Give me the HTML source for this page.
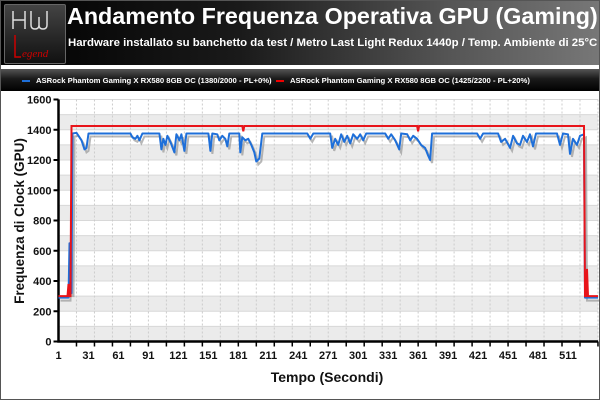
<!DOCTYPE html>
<html><head><meta charset="utf-8"><style>
body{margin:0;width:600px;height:400px;overflow:hidden;background:#fff;font-family:"Liberation Sans",sans-serif}
#root{position:relative;width:598px;height:398px;border:1px solid #555;background:#fff}
#hdr{position:absolute;left:0;top:0;width:598px;height:64px;background:linear-gradient(90deg,#000 0%,#1a1a1a 40%,#555 75%,#777 100%)}
#logo{position:absolute;left:3px;top:3px;width:60px;height:58px;background:linear-gradient(180deg,#444,#111);border:1px solid #666;border-radius:2px}
#title{position:absolute;left:66px;top:2px;color:#fff;font-weight:bold;font-size:23.3px;white-space:nowrap}
#sub{position:absolute;left:67px;top:36px;color:#fff;font-weight:bold;font-size:11.4px;white-space:nowrap}
#leg{position:absolute;left:0;top:68px;width:598px;height:22px;background:linear-gradient(180deg,#555,#1a1a1a 45%,#000);color:#fff;font-size:7.7px;font-weight:bold}
.li{position:absolute;top:7px;white-space:nowrap}
.sw{display:inline-block;width:8px;height:2px;margin-right:6px;vertical-align:middle}
</style></head><body>
<div id="root">
<div id="hdr">
 <div id="logo">
  <svg width="60" height="58">
   <path d="M8 6 V24 M8 15 H20 M20 6 V24 M26 6 V20 Q26 24 30 24 Q34 24 34 20 V12 M34 20 Q34 24 38 24 Q42 24 42 20 V6" stroke="#ddd" stroke-width="1.5" fill="none"/>
   <path d="M10 30 V52 H16" stroke="#c00" stroke-width="1.5" fill="none"/>
   <text x="17" y="52" fill="#c00" font-size="11" font-style="italic" font-family="Liberation Serif,serif">egend</text>
  </svg>
 </div>
 <div id="title">Andamento Frequenza Operativa GPU (Gaming)</div>
 <div id="sub">Hardware installato su banchetto da test / Metro Last Light Redux 1440p / Temp. Ambiente di 25°C</div>
</div>
<div id="leg">
 <div class="li" style="left:21px"><span class="sw" style="background:#1e6fd9"></span>ASRock Phantom Gaming X RX580 8GB OC (1380/2000 - PL+0%)</div>
 <div class="li" style="left:275px"><span class="sw" style="background:#e00"></span>ASRock Phantom Gaming X RX580 8GB OC (1425/2200 - PL+20%)</div>
</div>
<svg id="plot" width="598" height="398" style="position:absolute;left:0;top:0"></svg>
</div>
<script>
const yTicks=[0,200,400,600,800,1000,1200,1400,1600];
const xLabels=[1,31,61,91,121,151,181,211,241,271,301,331,361,391,421,451,481,511];
const redSeries=[[1,300],[10,300],[11,380],[12,300],[13,300],[14,1425],[185,1425],[186,1390],[187,1425],[360,1425],[361,1390],[362,1425],[527,1425],[528,300],[529,300],[530,480],[531,300],[541,300]];
const blueSeries=[[1,290],[11,290],[12,650],[13,320],[14,320],[15,1375],[19,1380],[21,1360],[24,1330],[27,1270],[29,1280],[31,1375],[73,1375],[75,1350],[78,1340],[80,1360],[82,1330],[85,1375],[102,1375],[104,1270],[106,1340],[108,1300],[110,1360],[113,1320],[117,1250],[119,1370],[122,1330],[124,1370],[127,1260],[129,1375],[151,1375],[153,1260],[155,1375],[160,1370],[162,1330],[165,1360],[168,1340],[170,1290],[172,1375],[182,1375],[183,1250],[185,1350],[188,1330],[191,1340],[194,1300],[197,1250],[199,1190],[202,1210],[205,1375],[250,1375],[253,1340],[256,1375],[273,1375],[275,1280],[278,1340],[281,1300],[284,1370],[287,1320],[290,1360],[293,1310],[296,1370],[300,1340],[303,1370],[306,1330],[309,1375],[328,1375],[331,1340],[334,1370],[338,1330],[342,1270],[344,1375],[350,1370],[353,1330],[356,1360],[360,1340],[364,1300],[368,1280],[371,1230],[373,1200],[375,1375],[420,1375],[423,1340],[426,1375],[441,1375],[444,1320],[448,1340],[453,1280],[456,1360],[460,1310],[463,1300],[466,1360],[470,1320],[473,1370],[476,1290],[479,1375],[500,1375],[503,1300],[506,1375],[511,1370],[513,1240],[516,1340],[520,1300],[523,1360],[527,1370],[528,290],[541,290]];
const svg=document.getElementById('plot');
const NS='http://www.w3.org/2000/svg';
const X0=57.5,X1=597,Y0=340.5,Y1=98.5;
function sx(t){return X0+(t-1)*((567-X0)/510);}
function sy(v){return Y0-(v/1600)*(Y0-Y1);}
function mk(tag,attrs,parent){const e=document.createElementNS(NS,tag);for(const k in attrs)e.setAttribute(k,attrs[k]);(parent||svg).appendChild(e);return e;}
for(let v=0;v<1600;v+=200){
 const b=mk('rect',{x:X0,y:sy(v+100),width:X1-X0,height:sy(v)-sy(v+100),fill:'#ebebeb'});
 
 
}
for(let v=100;v<=1600;v+=100){
 const g=mk('line',{x1:X0,x2:X1,y1:sy(v),y2:sy(v),stroke:'#d8d8d8','stroke-width':1});
 
 
}
for(let t=19;t<=541;t+=18){
 const g=mk('line',{x1:sx(t),x2:sx(t),y1:Y1,y2:Y0,stroke:'#ccc','stroke-dasharray':'2,2','stroke-width':1});
 
 
 const tk=mk('line',{x1:sx(t),x2:sx(t),y1:Y0,y2:Y0+5,stroke:'#000','stroke-width':1.5});
 
 
}
const ax=mk('path',{d:`M${X0} ${Y1} V${Y0} H${X1}`,stroke:'#000','stroke-width':2.5,fill:'none'});


yTicks.forEach(v=>{
 const tk=mk('line',{x1:X0-5,x2:X0,y1:sy(v),y2:sy(v),stroke:'#000','stroke-width':2});
 
 
 const l=mk('text',{x:X0-7,y:sy(v)+4,'text-anchor':'end','font-size':11,'font-weight':'bold',fill:'#111'});
 l.textContent=v;
 
 
});
xLabels.forEach(t=>{
 const l=mk('text',{x:sx(t),y:358,'text-anchor':'middle','font-size':11,'font-weight':'bold',fill:'#111'});
 l.textContent=t;
 
 
});
function pts(s,dx,dy){return s.map(p=>(sx(p[0])+dx).toFixed(1)+','+(sy(p[1])+dy).toFixed(1)).join(' ');}
const sh=mk('polyline',{points:pts(blueSeries,2,3),stroke:'#999',opacity:0.7,'stroke-width':2,fill:'none'});


const bl=mk('polyline',{points:pts(blueSeries,0,0),stroke:'#1e6fd9','stroke-width':2,fill:'none','stroke-linejoin':'round'});


const rd=mk('polyline',{points:pts(redSeries,0,0),stroke:'#e8141a','stroke-width':2,fill:'none'});


const yt=mk('text',{x:0,y:0,transform:'translate(23,220) rotate(-90)','text-anchor':'middle','font-size':13.5,'font-weight':'bold',fill:'#111'});
yt.textContent='Frequenza di Clock (GPU)';


const xt=mk('text',{x:326,y:381,'text-anchor':'middle','font-size':14,'font-weight':'bold',fill:'#111'});
xt.textContent='Tempo (Secondi)';


</script>
</body></html>
